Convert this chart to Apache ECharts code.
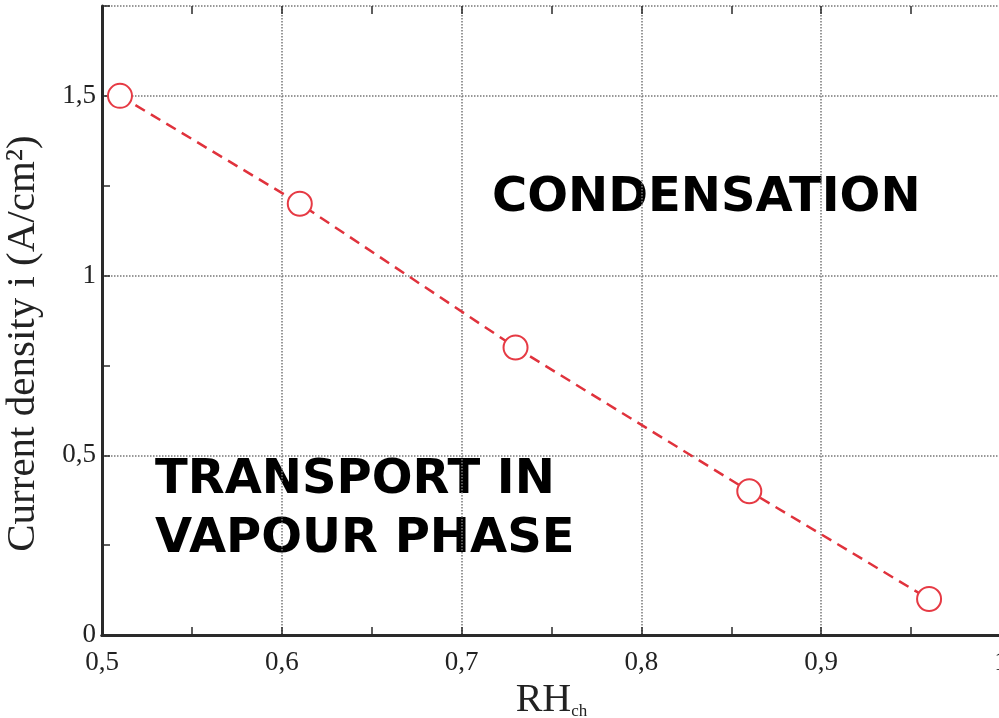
<!DOCTYPE html>
<html>
<head>
<meta charset="utf-8">
<script src="https://cdn.jsdelivr.net/npm/echarts@6/dist/echarts.min.js"></script>
<style>
  html, body { margin: 0; padding: 0; background: #fff; }
  #main { width: 999px; height: 718px; }
</style>
</head>
<body>
<div id="main"></div>
<script>
// data
var rh = [0.51, 0.61, 0.73, 0.86, 0.96]
var current = [1.5, 1.2, 0.8, 0.4, 0.1]
var xTicks = [0.5, 0.6, 0.7, 0.8, 0.9, 1]
var yTicks = [0, 0.5, 1, 1.5]

var points = rh.map(function(x, i) { return [x, current[i]] })

function comma(v) {
  return String(+v.toFixed(2)).replace('.', ',')
}

(function(){
  var myChart = echarts.init(document.getElementById('main'))
  var serif = '"Liberation Serif", "DejaVu Serif", serif'
  var bold = '"DejaVu Sans", Verdana, sans-serif'
  var axisColor = '#2a2a2a'
  var xMin = xTicks[0], xMax = xTicks[xTicks.length - 1]
  var yMax = 1.75

  // small inward ticks (half steps), no line, no labels
  function tickAxis(pos, min, max, step) {
    return {
      type: 'value',
      position: pos,
      min: min,
      max: max,
      interval: step,
      axisLine: { show: false },
      axisTick: { show: true, inside: true, length: 8, lineStyle: { color: axisColor, width: 1.5 } },
      axisLabel: { show: false },
      splitLine: { show: false }
    }
  }

  var option = {
    animation: false,
    grid: {
      left: 102,
      right: -2,
      top: 6,
      bottom: 83,
      containLabel: false,
      outerBoundsMode: 'none'
    },
    xAxis: [{
      type: 'value',
      min: xMin,
      max: xMax,
      interval: 0.1,
      name: '{a|RH}{b|ch}',
      nameLocation: 'middle',
      nameGap: 36,
      nameTextStyle: {
        rich: {
          a: { fontFamily: serif, fontSize: 40, color: '#222' },
          b: { fontFamily: serif, fontSize: 17, color: '#222', padding: [22, 0, 0, 0] }
        }
      },
      axisLine: { lineStyle: { color: axisColor, width: 3 } },
      axisTick: { show: false },
      axisLabel: {
        fontFamily: serif,
        fontSize: 27,
        color: '#222',
        margin: 14,
        formatter: comma
      },
      splitLine: { lineStyle: { color: '#777', type: 'dotted', width: 1.5 } }
    }, {
      type: 'value',
      position: 'top',
      min: xMin,
      max: xMax,
      interval: 0.1,
      axisLine: { show: true, lineStyle: { color: axisColor, width: 3 } },
      axisTick: { show: false },
      axisLabel: { show: false },
      splitLine: { show: false }
    },
    tickAxis('bottom', xMin, xMax, 0.05),
    tickAxis('top', xMin, xMax, 0.05)],
    yAxis: [{
      type: 'value',
      min: yTicks[0],
      max: yMax,
      interval: 0.5,
      name: 'Current density i (A/cm²)',
      nameLocation: 'middle',
      nameGap: 58,
      nameTextStyle: { fontFamily: serif, fontSize: 41, color: '#222', padding: [0, 46, 0, 0] },
      axisLine: { show: true, lineStyle: { color: axisColor, width: 3 } },
      axisTick: { show: false },
      axisLabel: {
        fontFamily: serif,
        fontSize: 27,
        color: '#222',
        margin: 6,
        showMaxLabel: false,
        formatter: comma
      },
      splitLine: { lineStyle: { color: '#777', type: 'dotted', width: 1.5 } }
    }, {
      type: 'value',
      position: 'right',
      min: yTicks[0],
      max: yMax,
      interval: 0.5,
      axisLine: { show: true, lineStyle: { color: axisColor, width: 3 } },
      axisTick: { show: false },
      axisLabel: { show: false },
      splitLine: { show: false }
    },
    tickAxis('left', yTicks[0], yMax, 0.25)],
    series: [{
      type: 'line',
      data: points,
      symbol: 'emptyCircle',
      symbolSize: 24,
      showAllSymbol: true,
      lineStyle: { color: '#e0323c', width: 2.5, type: [11, 7] },
      itemStyle: { color: '#e63a44', borderColor: '#e63a44', borderWidth: 1.5 }
    }],
    graphic: [{
      type: 'text',
      left: 492,
      top: 175,
      style: { text: 'CONDENSATION', font: 'bold 48px ' + bold, fill: '#000' }
    }, {
      type: 'text',
      left: 155,
      top: 451,
      style: { text: 'TRANSPORT IN\nVAPOUR PHASE', font: 'bold 48px ' + bold, fill: '#000', lineHeight: 59 }
    }]
  }
  myChart.setOption(option)
})();
</script>
</body>
</html>
